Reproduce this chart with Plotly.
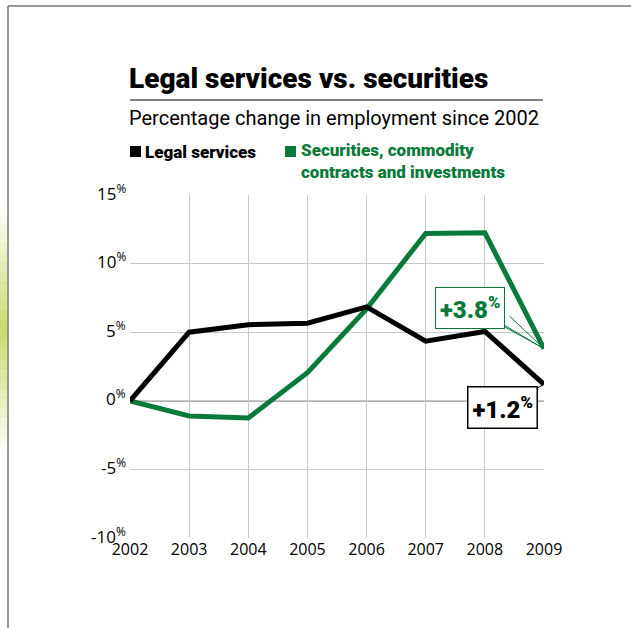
import plotly.graph_objects as go

years = [2002, 2003, 2004, 2005, 2006, 2007, 2008, 2009]
legal = [0, 5.0, 5.55, 5.65, 6.85, 4.35, 5.05, 1.2]
securities = [0, -1.1, -1.25, 2.05, 6.7, 12.2, 12.25, 3.8]
y_ticks = [-10, -5, 0, 5, 10, 15]
y_ticklabels = [f"{v}<sup>%</sup>" for v in y_ticks]

GREEN = "#0a7a3c"
W, H = 631, 628
L, R, T, B = 130, 544, 195, 538

def px(x):
    return (x - L) / (R - L)

def py(y):
    return (B - y) / (B - T)

fig = go.Figure()
fig.add_trace(go.Scatter(x=years, y=securities, mode="lines",
                         line=dict(color=GREEN, width=5), showlegend=False, hoverinfo="skip"))
fig.add_trace(go.Scatter(x=years, y=legal, mode="lines",
                         line=dict(color="black", width=5), showlegend=False, hoverinfo="skip"))

TF = "Roboto, Liberation Sans, sans-serif"
TKF = "Open Sans, Lato, sans-serif"

ann = []
ann.append(dict(xref="paper", yref="paper", x=px(127), y=py(79), xanchor="left", yanchor="middle",
                text="Legal services vs. securities", showarrow=False,
                font=dict(family=TF, size=28, color="black", weight=900)))
ann.append(dict(xref="paper", yref="paper", x=px(127), y=py(118), xanchor="left", yanchor="middle",
                text="Percentage change in employment since 2002", showarrow=False,
                font=dict(family=TF, size=20, color="black")))
ann.append(dict(xref="paper", yref="paper", x=px(143), y=py(152), xanchor="left", yanchor="middle",
                text="Legal services", showarrow=False,
                font=dict(family=TF, size=17, color="black", weight=900)))
ann.append(dict(xref="paper", yref="paper", x=px(299), y=py(161), xanchor="left", yanchor="middle",
                text="Securities, commodity<br>contracts and investments", showarrow=False, align="left",
                font=dict(family=TF, size=17, color=GREEN, weight=900)))
# y tick labels
for v, t in zip(y_ticks, y_ticklabels):
    ann.append(dict(xref="paper", yref="y", x=px(128), y=v, xanchor="right", yanchor="middle", yshift=3,
                    text=t, showarrow=False, font=dict(family=TKF, size=17, color="black")))
# callout wedges
for dx, dy in [(-44, -26), (-36, -34)]:
    ann.append(dict(x=2009, y=securities[-1], xref="x", yref="y", ax=dx, ay=dy, text="",
                    showarrow=True, arrowhead=0, arrowwidth=1, arrowcolor=GREEN))
# callouts
ann.append(dict(x=2009, y=securities[-1], xref="x", yref="y", ax=-74, ay=-41,
                text="+3.8<sup>%</sup>", showarrow=True, arrowhead=0, arrowwidth=1,
                arrowcolor=GREEN, bordercolor=GREEN, borderwidth=1, borderpad=4, bgcolor="white",
                font=dict(family=TF, size=24, color=GREEN, weight=900)))
ann.append(dict(x=2009, y=legal[-1], xref="x", yref="y", ax=-42, ay=23,
                text="+1.2<sup>%</sup>", showarrow=True, arrowhead=0, arrowwidth=1,
                arrowcolor="black", bordercolor="black", borderwidth=1.5, borderpad=4, bgcolor="white",
                font=dict(family=TF, size=24, color="black", weight=900)))

shapes = []
# title rule
shapes.append(dict(type="line", xref="paper", yref="paper", x0=px(130), x1=px(543), y0=py(100), y1=py(100),
                   line=dict(color="black", width=1)))
# legend squares
shapes.append(dict(type="rect", xref="paper", yref="paper", x0=px(130), x1=px(141), y0=py(157), y1=py(146),
                   fillcolor="black", line=dict(width=0)))
shapes.append(dict(type="rect", xref="paper", yref="paper", x0=px(285), x1=px(296), y0=py(157), y1=py(146),
                   fillcolor=GREEN, line=dict(width=0)))
# frame lines
shapes.append(dict(type="line", xref="paper", yref="paper", x0=px(8), x1=px(8), y0=py(6), y1=py(628),
                   line=dict(color="#777777", width=1.5)))
shapes.append(dict(type="line", xref="paper", yref="paper", x0=px(8), x1=px(631), y0=py(6), y1=py(6),
                   line=dict(color="#777777", width=1.5)))
# gradient strip
n = 26
for i in range(n):
    y0 = 205 + i * (250 / n)
    y1 = y0 + 250 / n + 0.5
    c = (y0 + y1) / 2
    a = max(0.0, 1 - abs(c - 330) / 125)
    shapes.append(dict(type="rect", xref="paper", yref="paper", x0=px(0), x1=px(7.5), y0=py(y1), y1=py(y0),
                       fillcolor=f"rgba(200,220,110,{a:.3f})", line=dict(width=0), layer="below"))
# zero line
shapes.append(dict(type="line", xref="paper", yref="y", x0=0, x1=1, y0=0, y1=0,
                   line=dict(color="black", width=1), layer="below"))

fig.update_layout(
    width=W, height=H, margin=dict(l=L, r=W - R, t=T, b=H - B),
    paper_bgcolor="white", plot_bgcolor="white",
    annotations=ann, shapes=shapes,
    xaxis=dict(range=[2002, 2009], tickvals=years, ticktext=[str(y) for y in years],
               showgrid=True, gridcolor="#c8c8c8", gridwidth=1, zeroline=False,
               showline=False, ticks="", tickfont=dict(family=TKF, size=16, color="black"),
               fixedrange=True),
    yaxis=dict(range=[-10, 15], tickvals=y_ticks, showticklabels=False,
               showgrid=True, gridcolor="#c8c8c8", gridwidth=1, zeroline=False,
               showline=False, ticks="", fixedrange=True),
)
fig.write_html("out.html")
